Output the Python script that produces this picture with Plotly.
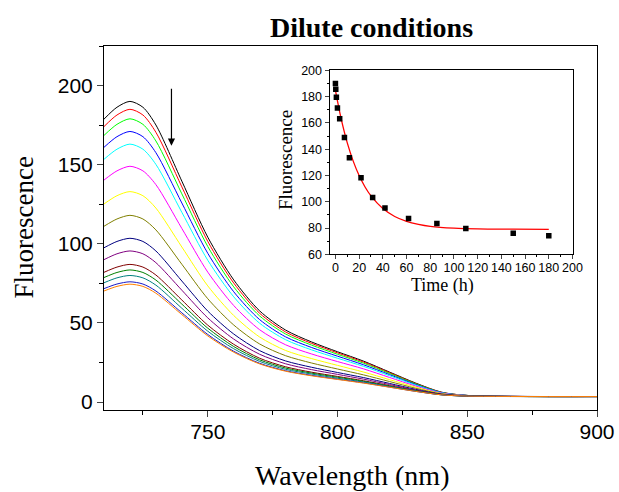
import plotly.graph_objects as go

# ---------------- data ----------------
wavelength = [710, 715, 720, 725, 730, 740, 750, 760, 770, 780, 790, 800, 810, 820, 830, 840, 850, 900]

spec_01 = [178.8, 186.3, 190.0, 186.3, 175.1, 139.6, 104.2, 77.2, 57.6, 45.5, 38.0, 31.8, 25.9, 19.0, 12.1, 6.3, 4.2, 3.5]
spec_02 = [174.1, 181.4, 185.0, 181.4, 170.5, 136.0, 101.5, 75.2, 56.1, 44.3, 37.1, 31.1, 25.3, 18.6, 11.8, 6.2, 4.2, 3.5]
spec_03 = [168.5, 175.5, 179.0, 175.5, 165.0, 131.6, 98.3, 72.8, 54.4, 43.0, 36.0, 30.2, 24.6, 18.1, 11.6, 6.1, 4.2, 3.5]
spec_04 = [161.0, 167.7, 171.0, 167.7, 157.6, 125.8, 94.0, 69.7, 52.1, 41.2, 34.5, 29.0, 23.6, 17.4, 11.2, 6.0, 4.2, 3.5]
spec_05 = [153.4, 159.8, 163.0, 159.8, 150.2, 119.9, 89.6, 66.5, 49.8, 39.4, 33.0, 27.7, 22.6, 16.7, 10.8, 5.9, 4.1, 3.5]
spec_06 = [140.3, 146.1, 149.0, 146.1, 137.4, 109.7, 82.1, 61.0, 45.7, 36.2, 30.4, 25.6, 21.0, 15.6, 10.2, 5.7, 4.1, 3.5]
spec_07 = [125.2, 130.4, 133.0, 130.4, 122.6, 98.0, 73.4, 54.7, 41.1, 32.6, 27.5, 23.2, 19.0, 14.2, 9.5, 5.4, 4.0, 3.5]
spec_08 = [111.1, 115.7, 118.0, 115.7, 108.8, 87.1, 65.3, 48.7, 36.7, 29.3, 24.7, 20.9, 17.2, 13.0, 8.8, 5.2, 4.0, 3.5]
spec_09 = [97.5, 101.5, 103.5, 101.5, 95.5, 76.5, 57.5, 43.0, 32.5, 26.0, 22.0, 18.7, 15.5, 11.8, 8.1, 5.0, 3.9, 3.5]
spec_10 = [90.0, 93.7, 95.5, 93.7, 88.1, 70.7, 53.2, 39.8, 30.2, 24.2, 20.5, 17.5, 14.5, 11.1, 7.7, 4.9, 3.9, 3.5]
spec_11 = [82.0, 85.3, 87.0, 85.3, 80.3, 64.5, 48.6, 36.5, 27.7, 22.3, 18.9, 16.2, 13.5, 10.4, 7.3, 4.8, 3.8, 3.5]
spec_12 = [78.7, 81.9, 83.5, 81.9, 77.1, 61.9, 46.7, 35.1, 26.7, 21.5, 18.3, 15.7, 13.1, 10.1, 7.2, 4.7, 3.8, 3.5]
spec_13 = [75.4, 78.5, 80.0, 78.5, 73.9, 59.3, 44.8, 33.7, 25.7, 20.7, 17.7, 15.1, 12.7, 9.8, 7.0, 4.6, 3.8, 3.5]
spec_14 = [71.7, 74.6, 76.0, 74.6, 70.2, 56.4, 42.7, 32.1, 24.5, 19.8, 16.9, 14.5, 12.2, 9.5, 6.8, 4.6, 3.8, 3.5]
spec_15 = [70.2, 73.1, 74.5, 73.1, 68.8, 55.3, 41.8, 31.5, 24.1, 19.5, 16.6, 14.3, 12.0, 9.4, 6.8, 4.6, 3.8, 3.5]

spectra = [spec_01, spec_02, spec_03, spec_04, spec_05, spec_06, spec_07, spec_08,
           spec_09, spec_10, spec_11, spec_12, spec_13, spec_14, spec_15]
spec_colors = ["#000000", "#FF0000", "#00FF00", "#0000FF", "#00FFFF", "#FF00FF", "#FFFF00",
               "#808000", "#000080", "#800080", "#800000", "#008000", "#008080", "#1A1AC8", "#FF8000"]

time_h = [0, 0.3, 0.8, 1.7, 3.6, 7.6, 11.8, 21.6, 31.4, 41.8, 61.7, 85.6, 110, 150, 180]
fluor = [190, 185.5, 179.4, 171.3, 163.2, 148.9, 133.4, 118.2, 103.2, 95.3, 87.2, 83.4, 79.6, 76, 74.2]

fit_t = [0, 2, 5, 10, 15, 20, 25, 30, 40, 50, 60, 70, 80, 100, 120, 150, 180]
fit_y = [185, 175.4, 162.5, 144.8, 130.9, 119.9, 111.2, 104.4, 94.8, 88.8, 85.1, 82.8, 81.3, 79.9, 79.3, 79.1, 79.0]

SERIF = "Liberation Serif, Times New Roman, serif"
SANS = "Liberation Sans, Arial, sans-serif"

fig = go.Figure()
for ys, c in zip(spectra, spec_colors):
    fig.add_trace(go.Scatter(x=wavelength, y=ys, mode="lines", line=dict(color=c, width=1, shape="spline", smoothing=0.8),
                             showlegend=False, hoverinfo="skip"))

fig.add_trace(go.Scatter(x=fit_t, y=fit_y, mode="lines", line=dict(color="#FF0000", width=1.3, shape="spline"),
                         xaxis="x2", yaxis="y2", showlegend=False))
fig.add_trace(go.Scatter(x=time_h, y=fluor, mode="markers", marker=dict(symbol="square", size=5.5, color="black"),
                         xaxis="x2", yaxis="y2", showlegend=False))

W, H = 619, 492
L, R, T, B = 104, 22, 46, 82
pw, ph = W - L - R, H - T - B

def px(xp):
    return (xp - L) / pw

def py(yp):
    return (H - B - yp) / ph

fig.update_layout(
    width=W, height=H,
    margin=dict(l=L, r=R, t=T, b=B, autoexpand=False),
    paper_bgcolor="white", plot_bgcolor="white",
    showlegend=False,
    xaxis=dict(range=[710, 900], dtick=50, tick0=0, ticks="outside", ticklen=6, tickwidth=1, automargin=False,
               ticklabelstandoff=-3,
               showline=True, linecolor="black", linewidth=1, mirror=True, showgrid=False, zeroline=False,
               tickfont=dict(family=SANS, size=21, color="black"),
               minor=dict(dtick=25, tick0=0, ticks="outside", ticklen=4, tickcolor="black", showgrid=False)),
    yaxis=dict(range=[-5, 225], dtick=50, tick0=0, ticks="outside", ticklen=6, tickwidth=1, automargin=False,
               showline=True, linecolor="black", linewidth=1, mirror=True, showgrid=False, zeroline=False,
               tickfont=dict(family=SANS, size=21, color="black"),
               minor=dict(dtick=25, tick0=0, ticks="outside", ticklen=4, tickcolor="black", showgrid=False)),
    xaxis2=dict(domain=[px(329.5), px(572.5)], anchor="y2", range=[-5, 200], dtick=20, tick0=0, automargin=False,
                ticklabelstandoff=-2,
                ticks="outside", ticklen=4, showline=True, linecolor="black", linewidth=1, mirror=True,
                showgrid=False, zeroline=False, tickfont=dict(family=SANS, size=12.5, color="black"),
                minor=dict(dtick=10, tick0=0, ticks="outside", ticklen=2, tickcolor="black", showgrid=False)),
    yaxis2=dict(domain=[py(254.3), py(70.3)], anchor="x2", range=[60, 200], dtick=20, tick0=0, automargin=False,
                ticks="outside", ticklen=4, showline=True, linecolor="black", linewidth=1, mirror=True,
                showgrid=False, zeroline=False, tickfont=dict(family=SANS, size=12.5, color="black"),
                minor=dict(dtick=10, tick0=0, ticks="outside", ticklen=2, tickcolor="black", showgrid=False)),
    annotations=[
        dict(text="<b>Dilute conditions</b>", xref="paper", yref="paper", x=px(371), y=py(28),
             xanchor="center", yanchor="middle", showarrow=False, font=dict(family=SERIF, size=28, color="black")),
        dict(text="Wavelength (nm)", xref="paper", yref="paper", x=px(352), y=py(475),
             xanchor="center", yanchor="middle", showarrow=False, font=dict(family=SERIF, size=28, color="black")),
        dict(text="Fluorescence", xref="paper", yref="paper", x=px(23), y=py(227.5), textangle=-90,
             xanchor="center", yanchor="middle", showarrow=False, font=dict(family=SERIF, size=27, color="black")),
        dict(text="Time (h)", xref="paper", yref="paper", x=px(442.5), y=py(285),
             xanchor="center", yanchor="middle", showarrow=False, font=dict(family=SERIF, size=18, color="black")),
        dict(text="Fluorescence", xref="paper", yref="paper", x=px(285), y=py(160), textangle=-90,
             xanchor="center", yanchor="middle", showarrow=False, font=dict(family=SERIF, size=19, color="black")),
        dict(text="", x=736, y=162, xref="x", yref="y", ax=736, ay=199, axref="x", ayref="y",
             showarrow=True, arrowhead=2, arrowsize=1.2, arrowwidth=1.2, arrowcolor="black"),
    ],
)

fig.write_html("out.html")
